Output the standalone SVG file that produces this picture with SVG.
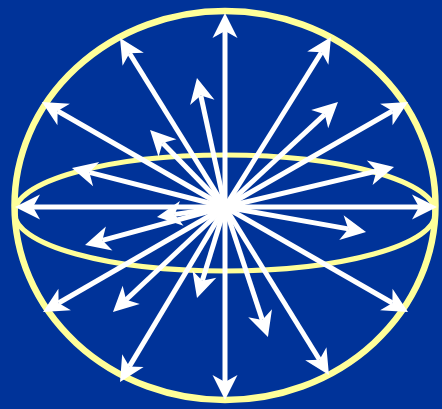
<svg xmlns="http://www.w3.org/2000/svg" width="442" height="409" viewBox="0 0 442 409">
  <style>
    .ring { fill: none; stroke: #FFFF99; }
    .arr { stroke: #FFFFFF; stroke-width: 5; fill: none; marker-end: url(#head); }
  </style>
  <defs>
    <marker id="head" markerUnits="userSpaceOnUse" viewBox="-8 -14 28 28" markerWidth="28" markerHeight="28" refX="0" refY="0" orient="auto" overflow="visible">
      <path d="M18,0 L-7,-12.5 L0,0 L-7,12.5 Z" fill="#FFFFFF"/>
    </marker>
  </defs>
  <rect x="0" y="0" width="442" height="409" fill="#003399"/>
  <g id="sphere">
    <ellipse class="ring" cx="225" cy="205.5" rx="210.5" ry="194.5" stroke-width="6.5"/>
  </g>
  <g id="equator">
    <ellipse class="ring" cx="225" cy="213" rx="210.5" ry="58" stroke-width="5"/>
  </g>
  <g id="arrows">
    <line class="arr" x1="225" y1="207" x2="225" y2="31"/>
    <line class="arr" x1="225" y1="207" x2="225" y2="382"/>
    <line class="arr" x1="225" y1="207" x2="33" y2="207"/>
    <line class="arr" x1="225" y1="207" x2="419" y2="207"/>
    <line class="arr" x1="225" y1="207" x2="129.5" y2="53.3"/>
    <line class="arr" x1="225" y1="207" x2="321.5" y2="52.3"/>
    <line class="arr" x1="225" y1="207" x2="57.6" y2="111"/>
    <line class="arr" x1="225" y1="207" x2="392.4" y2="111"/>
    <line class="arr" x1="225" y1="207" x2="200.8" y2="95.6"/>
    <line class="arr" x1="225" y1="207" x2="324.8" y2="114.3"/>
    <line class="arr" x1="225" y1="207" x2="162.6" y2="142.9"/>
    <line class="arr" x1="225" y1="207" x2="89.4" y2="172.4"/>
    <line class="arr" x1="225" y1="207" x2="376.5" y2="171.1"/>
    <line class="arr" x1="225" y1="207" x2="174.8" y2="214.4"/>
    <line class="arr" x1="225" y1="207" x2="102.4" y2="240.3"/>
    <line class="arr" x1="225" y1="207" x2="348.3" y2="228.9"/>
    <line class="arr" x1="225" y1="207" x2="58.6" y2="303"/>
    <line class="arr" x1="225" y1="207" x2="392.4" y2="303"/>
    <line class="arr" x1="225" y1="207" x2="126.1" y2="299.7"/>
    <line class="arr" x1="225" y1="207" x2="202.3" y2="280.8"/>
    <line class="arr" x1="225" y1="207" x2="262.3" y2="319.9"/>
    <line class="arr" x1="225" y1="207" x2="129.3" y2="366.6"/>
    <line class="arr" x1="225" y1="207" x2="319.5" y2="359.7"/>
  </g>
</svg>
